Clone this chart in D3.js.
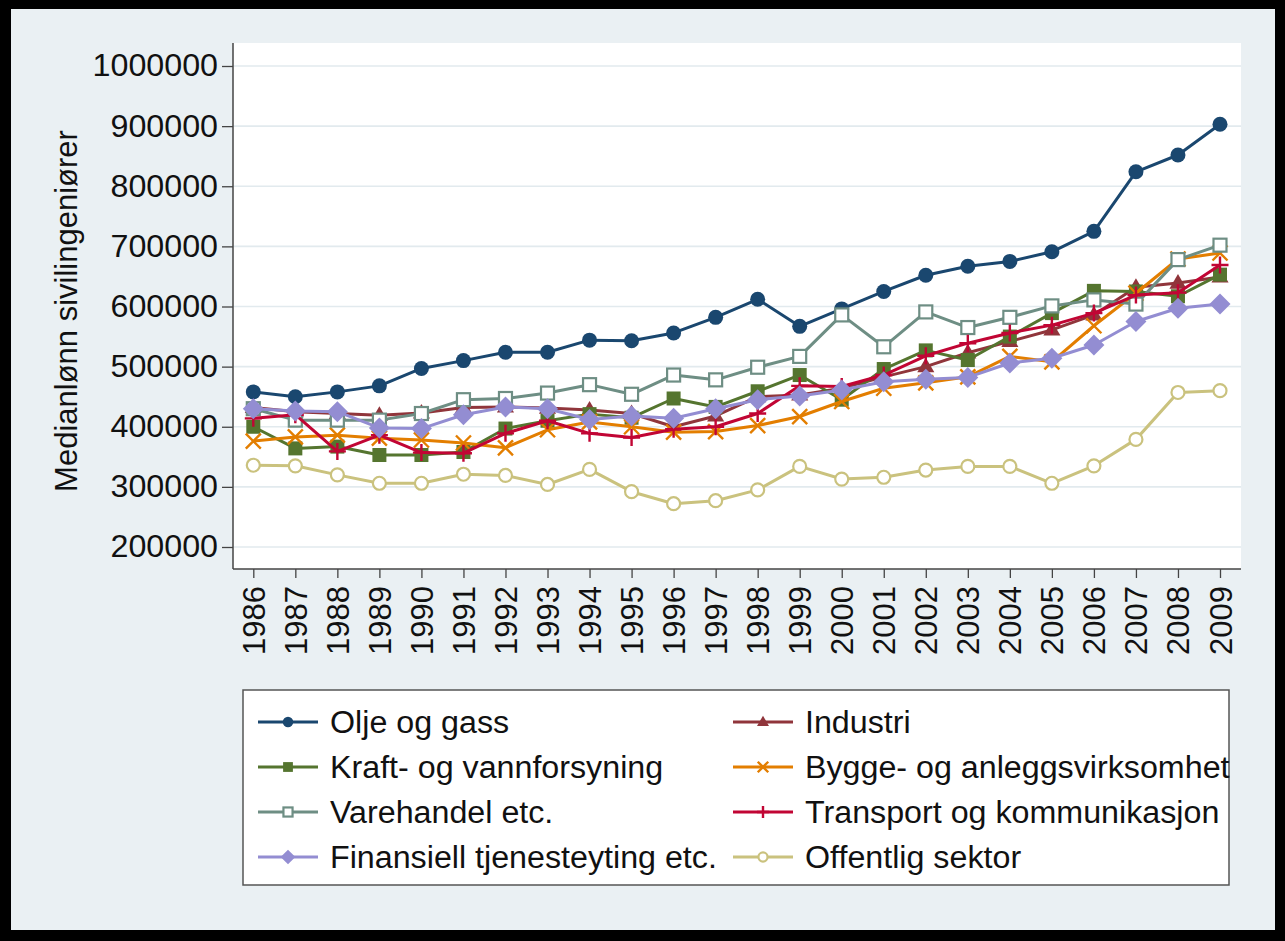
<!DOCTYPE html>
<html>
<head>
<meta charset="utf-8">
<script src="https://cdn.jsdelivr.net/npm/d3@7"></script>
<style>
  html, body { margin: 0; padding: 0; background: #000; }
  svg { display: block; }
  text { font-family: "Liberation Sans", Arial, Helvetica, sans-serif; fill: #111; }
</style>
</head>
<body>
<svg id="chart" width="1285" height="941"></svg>
<script>
// ---------- DATA ----------
const years = [1986,1987,1988,1989,1990,1991,1992,1993,1994,1995,1996,1997,
               1998,1999,2000,2001,2002,2003,2004,2005,2006,2007,2008,2009];

const oljeOgGass   = [458000,450000,458000,468000,497000,510000,524000,524000,544000,543000,556000,582000,
                      612000,567000,596000,625000,652000,667000,675000,691000,725000,824000,852000,903000];
const industri     = [432000,425000,422000,419000,423000,432000,433000,431000,428000,422000,400000,418000,
                      450000,453000,464000,483000,500000,523000,542000,561000,586000,632000,639000,649000];
const kraft        = [400000,364000,367000,353000,353000,358000,397000,410000,421000,415000,447000,433000,
                      459000,486000,445000,496000,527000,511000,550000,589000,626000,625000,617000,653000];
const bygge        = [376000,383000,386000,381000,378000,373000,365000,395000,408000,400000,391000,392000,
                      402000,417000,442000,464000,473000,483000,517000,508000,568000,622000,679000,689000];
const varehandel   = [430000,411000,411000,411000,422000,445000,447000,456000,470000,454000,486000,478000,
                      499000,517000,586000,533000,591000,565000,582000,601000,611000,604000,678000,702000];
const transport    = [414000,420000,359000,386000,357000,356000,389000,410000,389000,382000,396000,400000,
                      422000,468000,467000,486000,518000,539000,556000,569000,589000,619000,623000,669000];
const finansiell   = [430000,426000,425000,398000,397000,420000,433000,430000,412000,418000,414000,430000,
                      445000,451000,461000,475000,479000,482000,506000,514000,536000,575000,597000,604000];
const offentlig    = [336000,335000,320000,306000,306000,321000,319000,304000,329000,292000,272000,277000,
                      295000,334000,313000,316000,328000,334000,334000,306000,335000,379000,457000,460000];

const seriesNames  = ["Olje og gass","Industri","Kraft- og vannforsyning","Bygge- og anleggsvirksomhet",
                      "Varehandel etc.","Transport og kommunikasjon","Finansiell tjenesteyting etc.","Offentlig sektor"];
const yTicks = [200000,300000,400000,500000,600000,700000,800000,900000,1000000];
const yTitle = "Medianlønn sivilingeniører";

// ---------- STYLE ----------
const seriesValues = [oljeOgGass, industri, kraft, bygge, varehandel, transport, finansiell, offentlig];
const colors  = ["#1a476f","#90353b","#55752f","#e37e00","#6e8e84","#c10534","#938dd2","#cac27e"];
const markers = ["circle","triangle","square","x","hsquare","plus","diamond","hcircle"];

const svg = d3.select("#chart");
const W = 1285, H = 941;
const plot = {left: 233, top: 43, right: 1241, bottom: 569};
const FS = 31, SX = 1.04;

svg.append("rect").attr("x",0).attr("y",0).attr("width",W).attr("height",H).attr("fill","#000");
svg.append("rect").attr("x",11).attr("y",9).attr("width",1264).attr("height",921).attr("fill","#eaf0f3");
svg.append("rect").attr("x",plot.left).attr("y",plot.top)
   .attr("width",plot.right-plot.left).attr("height",plot.bottom-plot.top).attr("fill","#fff");

const x = d3.scaleLinear().domain([years[0], years[years.length-1]]).range([253.3, 1220]);
const y = d3.scaleLinear().domain([200000, 1000000]).range([547, 66]);

// gridlines
svg.append("g").selectAll("line").data(yTicks).join("line")
  .attr("x1", plot.left).attr("x2", plot.right)
  .attr("y1", d => y(d)).attr("y2", d => y(d))
  .attr("stroke", "#e2eaee").attr("stroke-width", 1.6);

// y axis
const yAxis = d3.axisLeft(y).tickValues(yTicks).tickSize(11).tickPadding(4).tickFormat(d3.format("d"));
const gy = svg.append("g").attr("transform", `translate(${plot.left},0)`).call(yAxis);
gy.select(".domain").remove();
gy.selectAll(".tick line").attr("stroke","#444").attr("stroke-width",1.3);
gy.selectAll(".tick text").attr("font-size", FS).attr("fill","#111")
  .attr("font-family", "'Liberation Sans', Arial, sans-serif")
  .each(function() {
    const t = d3.select(this);
    const xx = +t.attr("x");
    t.attr("x", null).attr("transform", `translate(${xx},0) scale(${SX},1)`);
  });

// x axis
const xAxis = d3.axisBottom(x).tickValues(years).tickSize(9).tickFormat(d3.format("d"));
const gx = svg.append("g").attr("transform", `translate(0,${plot.bottom})`).call(xAxis);
gx.select(".domain").remove();
gx.selectAll(".tick line").attr("stroke","#444").attr("stroke-width",1.3);
gx.selectAll(".tick text").attr("font-size", FS).attr("fill","#111")
  .attr("font-family", "'Liberation Sans', Arial, sans-serif")
  .attr("text-anchor","end").attr("dy", null).attr("y", null)
  .attr("transform", "translate(11,17) rotate(-90)");

// axis lines
svg.append("line").attr("x1",plot.left).attr("x2",plot.left).attr("y1",plot.top).attr("y2",plot.bottom)
  .attr("stroke","#444").attr("stroke-width",1.5);
svg.append("line").attr("x1",plot.left).attr("x2",plot.right).attr("y1",plot.bottom).attr("y2",plot.bottom)
  .attr("stroke","#444").attr("stroke-width",1.5);

// y title
svg.append("text").attr("transform", `translate(77,${(plot.top+plot.bottom)/2+5}) rotate(-90)`)
  .attr("text-anchor","middle").attr("font-size", FS).text(yTitle);

// marker drawer
function drawMarker(g, type, color, s) {
  switch (type) {
    case "circle":
      g.append("circle").attr("r", 7.5*s).attr("fill", color); break;
    case "hcircle":
      g.append("circle").attr("r", 6.5*s).attr("fill", "#fff").attr("stroke", color).attr("stroke-width", 2.2); break;
    case "triangle": {
      const r = 9*s;
      g.append("path").attr("d", `M0,${-r} L${r*0.95},${r*0.62} L${-r*0.95},${r*0.62}Z`).attr("fill", color); break; }
    case "square":
      g.append("rect").attr("x",-7*s).attr("y",-7*s).attr("width",14*s).attr("height",14*s).attr("fill", color); break;
    case "hsquare":
      g.append("rect").attr("x",-6.5*s).attr("y",-6.5*s).attr("width",13*s).attr("height",13*s)
        .attr("fill", "#fff").attr("stroke", color).attr("stroke-width", 2.2); break;
    case "diamond": {
      const r = 10.5*s;
      g.append("path").attr("d", `M0,${-r} L${r},0 L0,${r} L${-r},0Z`).attr("fill", color); break; }
    case "x": {
      const r = 7.5*s;
      g.append("path").attr("d", `M${-r},${-r} L${r},${r} M${-r},${r} L${r},${-r}`)
        .attr("stroke", color).attr("stroke-width", 2.4).attr("fill","none"); break; }
    case "plus": {
      const r = 8.5*s;
      g.append("path").attr("d", `M${-r},0 L${r},0 M0,${-r} L0,${r}`)
        .attr("stroke", color).attr("stroke-width", 2.4).attr("fill","none"); break; }
  }
}

// series
const line = d3.line().x((d,i) => x(years[i])).y(d => y(d));
seriesValues.forEach((vals, si) => {
  const g = svg.append("g");
  g.append("path").datum(vals).attr("d", line)
    .attr("fill","none").attr("stroke", colors[si]).attr("stroke-width", 3).attr("stroke-linejoin","round");
  vals.forEach((v, i) => {
    const mg = g.append("g").attr("transform", `translate(${x(years[i])},${y(v)})`);
    drawMarker(mg, markers[si], colors[si], 1);
  });
});

// legend
const leg = svg.append("g");
leg.append("rect").attr("x",243).attr("y",690).attr("width",986).attr("height",195)
  .attr("fill","#fff").attr("stroke","#555").attr("stroke-width",1.5);
const rowY = [722, 767, 812, 857];
const colX = [258, 733];
seriesNames.forEach((name, i) => {
  const c = i % 2, r = Math.floor(i / 2);
  const lx = colX[c], ly = rowY[r];
  leg.append("line").attr("x1", lx).attr("x2", lx+60).attr("y1", ly).attr("y2", ly)
    .attr("stroke", colors[i]).attr("stroke-width", 3);
  const mg = leg.append("g").attr("transform", `translate(${lx+30},${ly})`);
  drawMarker(mg, markers[i], colors[i], 0.7);
  leg.append("text").attr("transform", `translate(${lx+72},${ly+11}) scale(${SX},1)`)
    .attr("font-size", FS).text(name);
});
</script>
</body>
</html>
